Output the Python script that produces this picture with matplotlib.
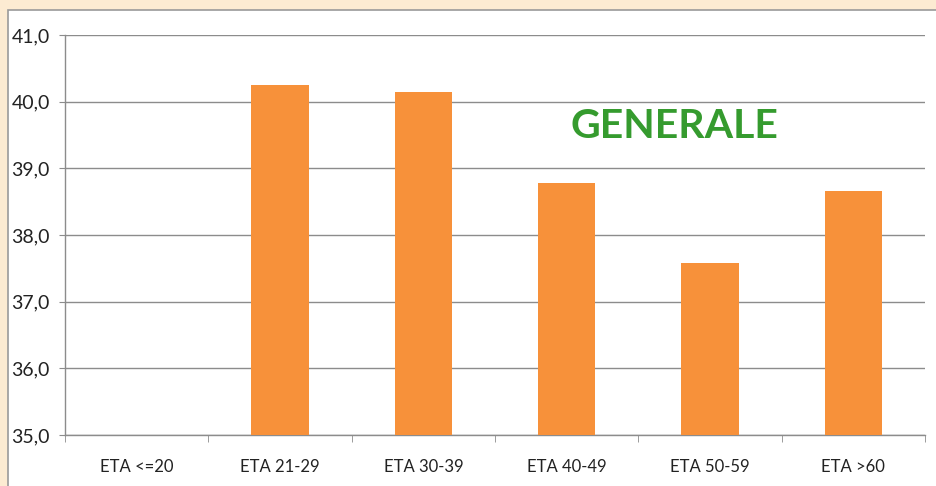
"""Bar chart: GENERALE by age band."""

import matplotlib
matplotlib.use("Agg")
import matplotlib.pyplot as plt
import numpy as np
from matplotlib.patches import Rectangle
from matplotlib.ticker import FuncFormatter, FixedLocator

plt.rcParams["font.family"] = ["Lato", "DejaVu Sans"]

categories = ["ETA <=20", "ETA 21-29", "ETA 30-39", "ETA 40-49", "ETA 50-59", "ETA >60"]
values = [np.nan, 40.25, 40.15, 38.78, 37.58, 38.66]
y_ticks = [35, 36, 37, 38, 39, 40, 41]
title = "GENERALE"

fig = plt.figure(figsize=(9.37, 4.86), dpi=100)
fig.patch.set_facecolor("#FCEBD2")

# white panel behind the chart
panel = Rectangle((8 / 937, -0.01), 1.0, (486 - 10) / 486 + 0.01,
                  transform=fig.transFigure, facecolor="white",
                  edgecolor="#9a9a9a", linewidth=1.2, zorder=-1)
fig.patches.append(panel)

ax = fig.add_axes([65 / 937, 51 / 486, 860 / 937, 400 / 486])
ax.set_facecolor("none")

x = np.arange(len(categories))
ax.bar(x, values, width=0.4, bottom=0, color="#F7913A", zorder=3)

ax.set_ylim(35, 41)
ax.set_xlim(-0.5, len(categories) - 0.5)
ax.yaxis.set_major_locator(FixedLocator(y_ticks))
ax.yaxis.set_major_formatter(FuncFormatter(lambda v, _: f"{v:.1f}".replace(".", ",")))
ax.grid(axis="y", color="#8c8c8c", linewidth=1.0, zorder=1)

ax.set_xticks(x)
ax.set_xticklabels(categories)
ax.set_xticks(np.arange(len(categories) + 1) - 0.5, minor=True)
ax.tick_params(axis="x", which="major", length=0, pad=17, labelsize=12, colors="#222222")
ax.tick_params(axis="x", which="minor", length=5, color="#8c8c8c", direction="out")
ax.tick_params(axis="y", length=4, color="#8c8c8c", pad=7, labelsize=14, colors="#222222")

for side in ("top", "right"):
    ax.spines[side].set_visible(False)
for side in ("left", "bottom"):
    ax.spines[side].set_color("#8c8c8c")
    ax.spines[side].set_linewidth(1.0)

ax.text(0.709, 0.77, title, transform=ax.transAxes, ha="center", va="center",
        fontsize=29.5, fontweight="bold", color="#359B2E", zorder=5)

fig.savefig("out.png", dpi=100, facecolor=fig.get_facecolor())
